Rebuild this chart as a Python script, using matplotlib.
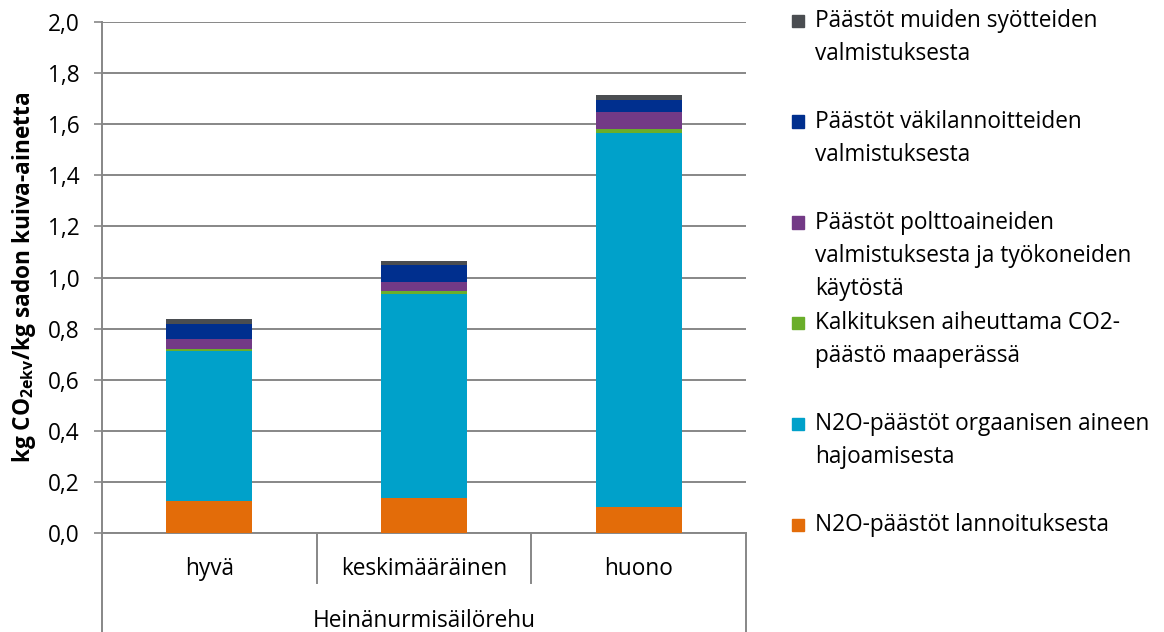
import numpy as np
import matplotlib
matplotlib.use('Agg')
import matplotlib.pyplot as plt
from matplotlib.patches import Rectangle
import matplotlib.transforms as mtransforms

plt.rcParams['font.family'] = ['Open Sans', 'DejaVu Sans']
plt.rcParams['mathtext.fontset'] = 'custom'
plt.rcParams['mathtext.bf'] = 'Open Sans:bold'
plt.rcParams['mathtext.rm'] = 'Open Sans'

# data (kg CO2ekv / kg kuiva-ainetta)
categories = ['hyvä', 'keskimääräinen', 'huono']
group_label = 'Heinänurmisäilörehu'
n2o_lannoitus = [0.125, 0.136, 0.103]
n2o_hajoaminen = [0.588, 0.801, 1.463]
kalkitus = [0.008, 0.009, 0.015]
polttoaineet = [0.037, 0.035, 0.066]
vakilannoitteet = [0.061, 0.069, 0.048]
muut_syotteet = [0.017, 0.016, 0.018]

series = [
    (n2o_lannoitus, '#E36C09', ['N2O-päästöt lannoituksesta']),
    (n2o_hajoaminen, '#00A1CA', ['N2O-päästöt orgaanisen aineen', 'hajoamisesta']),
    (kalkitus, '#6AAE2A', ['Kalkituksen aiheuttama CO2-', 'päästö maaperässä']),
    (polttoaineet, '#733A86', ['Päästöt polttoaineiden', 'valmistuksesta ja työkoneiden', 'käytöstä']),
    (vakilannoitteet, '#002F8E', ['Päästöt väkilannoitteiden', 'valmistuksesta']),
    (muut_syotteet, '#4A4D51', ['Päästöt muiden syötteiden', 'valmistuksesta']),
]

FS = 16.3
W, H = 1164, 632
fig = plt.figure(figsize=(W / 100, H / 100), dpi=100)
ax = fig.add_axes([102 / W, 1 - 533 / H, (746 - 102) / W, (533 - 22) / H])

x = np.arange(len(categories))
bottom = np.zeros(len(categories))
for vals, col, _ in series:
    ax.bar(x, vals, 0.4, bottom=bottom, color=col, zorder=3)
    bottom += np.array(vals)

grey = '#878787'
ax.set_xlim(-0.5, len(categories) - 0.5)
ax.set_ylim(0, 2.0)
yt = np.arange(0, 2.01, 0.2)
ax.set_yticks(yt)
ax.set_yticklabels([('%.1f' % v).replace('.', ',') for v in yt])
ax.yaxis.grid(True, color=grey, linewidth=1.4, zorder=0)
ax.set_axisbelow(True)
ax.tick_params(axis='y', length=6, width=1.2, color=grey, pad=10, labelsize=FS)
ax.set_xticks(x)
ax.set_xticklabels(categories)
ax.tick_params(axis='x', length=0, pad=17, labelsize=FS)
for s in ['top', 'right']:
    ax.spines[s].set_visible(False)
for s in ['left', 'bottom']:
    ax.spines[s].set_color(grey)
    ax.spines[s].set_linewidth(1.4)

ax.set_ylabel(r'kg CO$_{\mathbf{2ekv}}$/kg sadon kuiva-ainetta',
              fontsize=FS, fontweight='bold', labelpad=7)

# category box below the axis
trans = mtransforms.blended_transform_factory(ax.transData, ax.transAxes)
y_sep = -(583 - 533) / 511
y_bot = -(632 - 533) / 511
for xs in x[:-1] + 0.5:
    ax.plot([xs, xs], [0, y_sep], color=grey, lw=1.4, transform=trans, clip_on=False)
for xa in [0, 1]:
    ax.plot([xa, xa], [0, y_bot], color=grey, lw=1.4, transform=ax.transAxes, clip_on=False)
ax.text(0.5, -(627 - 533) / 511, group_label, transform=ax.transAxes,
        ha='center', va='baseline', fontsize=FS)

# legend drawn on the right, entries evenly spread
def fx(px):
    return px / W

def fy(py):
    return 1 - py / H

for i, (vals, col, lines) in enumerate(series[::-1]):
    base = 27 + i * 100.8
    fig.add_artist(Rectangle((fx(792), fy(base)), 12 / W, 12.5 / H,
                             transform=fig.transFigure, color=col))
    for j, ln in enumerate(lines):
        fig.text(fx(815), fy(base + j * 33), ln, ha='left', va='baseline', fontsize=FS)

fig.savefig('out.png', dpi=100)
